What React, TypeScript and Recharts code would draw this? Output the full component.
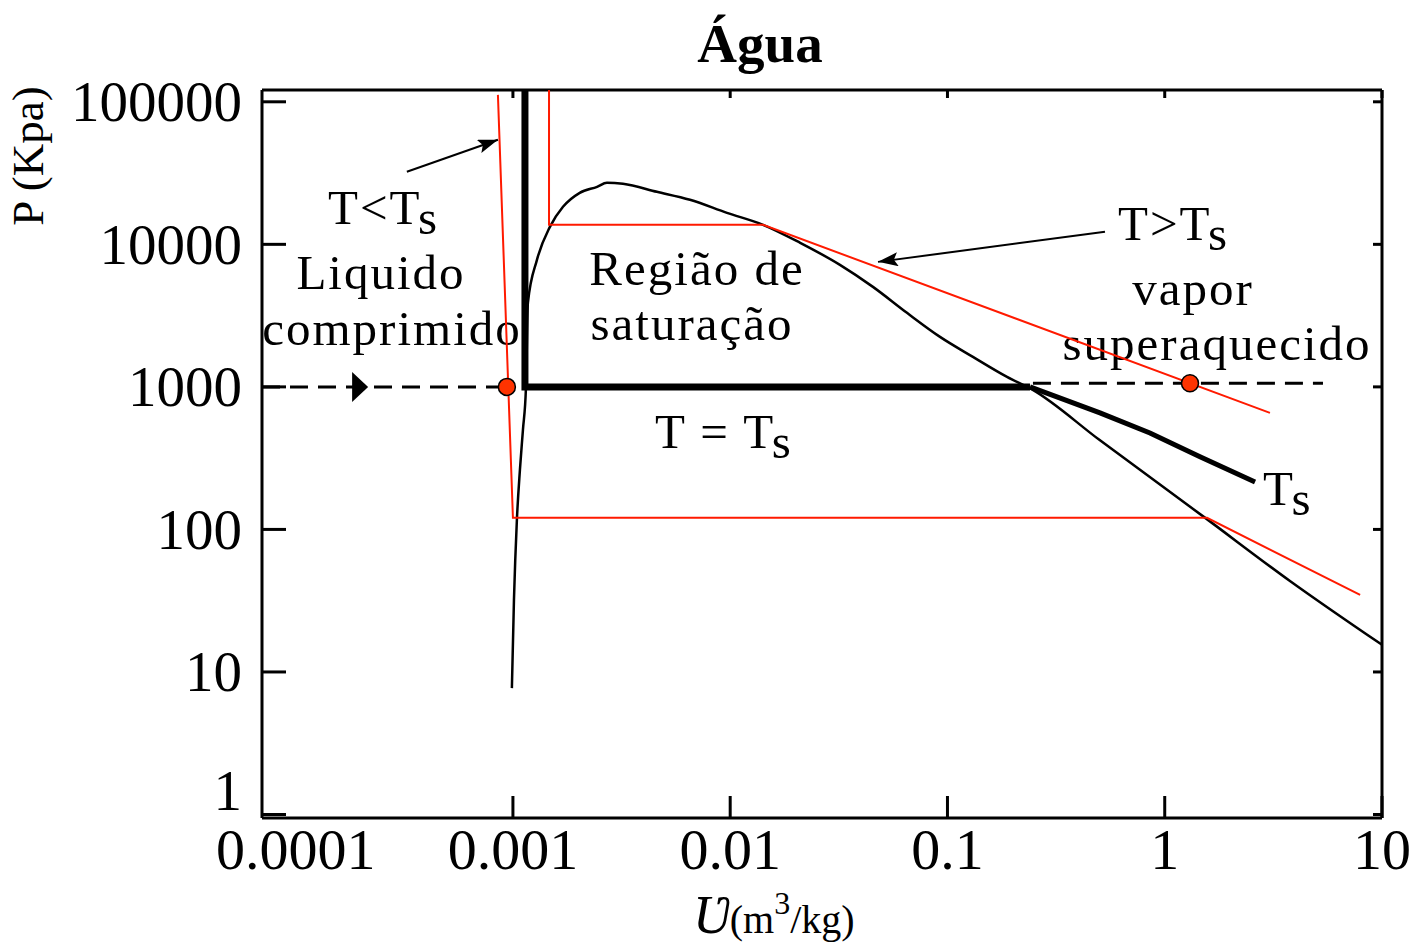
import React from 'react';
import { ComposedChart, Line, Scatter, XAxis, YAxis, ReferenceLine } from 'recharts';

type Pt = [number, number];

// ---- axes ----
const X_TICKS = [0.0001, 0.001, 0.01, 0.1, 1, 10];
const Y_TICKS = [1, 10, 100, 1000, 10000, 100000];
const X_DOMAIN: [number, number] = [0.00007, 10];
const Y_DOMAIN: [number, number] = [0.945, 121000];

// ---- curves (v in m3/kg, P in kPa) ----
const saturationDome: Pt[] = [
  [0.000989, 7.7],
  [0.001011, 32],
  [0.001043, 117],
  [0.001077, 262],
  [0.001112, 500],
  [0.001148, 985],
  [0.001172, 3880],
  [0.00129, 7780],
  [0.00148, 13270],
  [0.0017, 18330],
  [0.00203, 22980],
  [0.00244, 25320],
  [0.00271, 27020],
  [0.00321, 26580],
  [0.0046, 23360],
  [0.00653, 20530],
  [0.00966, 16630],
  [0.01416, 13710],
  [0.021, 10240],
  [0.032, 7180],
  [0.0454, 5030],
  [0.0651, 3306],
  [0.0924, 2243],
  [0.131, 1623],
  [0.188, 1175],
  [0.247, 952],
  [0.5, 425],
  [1.53, 121],
  [3.77, 43.5],
  [10, 15.5],
];
const isothermTsMain: Pt[] = [
  [0.001136, 121000],
  [0.001136, 1000],
  [0.2398, 1000],
];
const isothermTsVapor: Pt[] = [
  [0.2398, 1000],
  [0.5035, 657],
  [0.855, 475],
  [1.453, 323],
  [2.604, 215],
];
const isothermLow: Pt[] = [
  [0.000853, 111900],
  [0.001, 120.6],
  [1.565, 120.6],
  [7.93, 34.7],
];
const isothermHigh: Pt[] = [
  [0.001466, 121000],
  [0.001466, 13710],
  [0.01416, 13710],
  [3.05, 657],
];
const pressureLineLeft: Pt[] = [
  [0.00007, 1000],
  [0.000938, 1000],
];
const pressureLineRight: Pt[] = [
  [0.2474, 1060],
  [5.35, 1060],
];
const statePoints: Pt[] = [
  [0.000938, 1000],
  [1.307, 1060],
];
const flowArrow: Pt[] = [[0.000198, 1000]];
const arrowLiquid: Pt[] = [
  [0.000325, 32270],
  [0.000853, 54130],
];
const arrowVapor: Pt[] = [
  [0.531, 12240],
  [0.0479, 7534],
];

const rows = (pts: Pt[]) => pts.map(([v, p]) => ({ v, p }));

const FONT = "'Liberation Serif', 'Times New Roman', Times, serif";
const CHART_W = 1411;
const CHART_H = 947;
const MARGIN = { top: 90, right: 29, bottom: 0, left: 0 };
const Y_AXIS_W = 262;
const X_AXIS_H = 129;
const PLOT_W = CHART_W - MARGIN.right - Y_AXIS_W;
const PLOT_H = CHART_H - MARGIN.top - X_AXIS_H;
const Y_MARGIN = 20;
const X_MARGIN = 12;

const YTick = (props: any) => {
  const { x, y, payload } = props;
  const ax = x + Y_MARGIN;
  const isLowest = payload.value === Y_TICKS[0];
  return (
    <g>
      <line x1={ax} x2={ax + 24} y1={y} y2={y} stroke="#000" strokeWidth={3} />
      <line x1={ax + PLOT_W - 9} x2={ax + PLOT_W} y1={y} y2={y} stroke="#000" strokeWidth={3} />
      <text x={x} y={isLowest ? y - 24 : y} dy="0.34em" textAnchor="end" fontFamily={FONT} fontSize={57} fill="#000">
        {String(payload.value)}
      </text>
    </g>
  );
};

const XTick = (props: any) => {
  const { x, y, payload } = props;
  const ay = y - X_MARGIN;
  const showLine = payload.value > X_TICKS[0];
  return (
    <g>
      {showLine && <line x1={x} x2={x} y1={ay} y2={ay - 22} stroke="#000" strokeWidth={3} />}
      {showLine && <line x1={x} x2={x} y1={ay - PLOT_H} y2={ay - PLOT_H + 8} stroke="#000" strokeWidth={3} />}
      <text x={x} y={y} dy="0.68em" textAnchor="middle" fontFamily={FONT} fontSize={58} fill="#000">
        {String(payload.value)}
      </text>
    </g>
  );
};

const StateDot = (props: any) => (
  <circle cx={props.cx} cy={props.cy} r={8.5} fill="#ff3300" stroke="#000" strokeWidth={1.5} />
);

const FlowHead = (props: any) => {
  const { cx, cy } = props;
  return <polygon points={`${cx - 8},${cy - 15} ${cx + 8},${cy} ${cx - 8},${cy + 15}`} fill="#000" />;
};

const lineCommon = {
  dataKey: 'p',
  dot: false,
  activeDot: false,
  isAnimationActive: false,
  type: 'linear' as const,
};

const txt = { fontFamily: FONT, fontSize: 49, fill: '#000', letterSpacing: 2 };

export default function App() {
  return (
    <div style={{ position: 'absolute', left: 0, top: 0, width: CHART_W, height: CHART_H, background: '#fff' }}>
      <svg width={CHART_W} height={CHART_H} style={{ position: 'absolute', left: 0, top: 0 }}>
        <defs>
          <marker id="arrowHead" markerUnits="userSpaceOnUse" markerWidth={22} markerHeight={16} refX={20} refY={7} orient="auto">
            <path d="M0,0 L20,7 L0,14 L4,7 z" fill="#000" />
          </marker>
        </defs>
        <text x={760} y={62} textAnchor="middle" fontFamily={FONT} fontSize={55} fontWeight="bold" fill="#000">Água</text>
        <text x={43} y={156} transform="rotate(-90, 43, 156)" textAnchor="middle" fontFamily={FONT} fontSize={45} fill="#000">P (Kpa)</text>
        <text x={693} y={933} fontFamily={FONT} fill="#000">
          <tspan fontSize={54} fontStyle="italic">Ʋ</tspan>
          <tspan fontSize={40}>(m</tspan>
          <tspan fontSize={32} dy={-19}>3</tspan>
          <tspan fontSize={40} dy={19}>/kg)</tspan>
        </text>

        <text x={328} y={224} {...txt}>T&lt;T<tspan dy={10}>s</tspan></text>
        <text x={381} y={289} textAnchor="middle" {...txt}>Liquido</text>
        <text x={392} y={345} textAnchor="middle" {...txt}>comprimido</text>
        <text x={697} y={285} textAnchor="middle" {...txt}>Região de</text>
        <text x={692} y={340} textAnchor="middle" {...txt}>saturação</text>
        <text x={655} y={448} {...txt}>T = T<tspan dy={10}>s</tspan></text>
        <text x={1118} y={240} {...txt}>T&gt;T<tspan dy={10}>s</tspan></text>
        <text x={1193} y={305} textAnchor="middle" {...txt}>vapor</text>
        <text x={1217} y={360} textAnchor="middle" {...txt}>superaquecido</text>
        <text x={1263} y={505} {...txt}>T<tspan dy={10}>s</tspan></text>
      </svg>

      <div style={{ position: 'absolute', left: 0, top: 0 }}>
        <ComposedChart width={CHART_W} height={CHART_H} margin={MARGIN}>
          <XAxis
            dataKey="v"
            type="number"
            scale="log"
            domain={X_DOMAIN}
            allowDataOverflow
            ticks={X_TICKS}
            interval={0}
            height={X_AXIS_H}
            tickSize={0}
            tickMargin={X_MARGIN}
            tickLine={false}
            tick={<XTick />}
            axisLine={{ stroke: '#000', strokeWidth: 3 }}
          />
          <YAxis
            dataKey="p"
            type="number"
            scale="log"
            domain={Y_DOMAIN}
            allowDataOverflow
            ticks={Y_TICKS}
            interval={0}
            width={Y_AXIS_W}
            tickSize={0}
            tickMargin={Y_MARGIN}
            tickLine={false}
            tick={<YTick />}
            axisLine={{ stroke: '#000', strokeWidth: 3 }}
          />
          <ReferenceLine y={Y_DOMAIN[1]} stroke="#000" strokeWidth={3} />
          <ReferenceLine x={X_DOMAIN[1]} stroke="#000" strokeWidth={3} />

          <Line {...lineCommon} data={rows(pressureLineLeft)} stroke="#000" strokeWidth={3} strokeDasharray="18 10" />
          <Line {...lineCommon} data={rows(pressureLineRight)} stroke="#000" strokeWidth={3} strokeDasharray="18 10" />
          <Line {...lineCommon} data={rows(saturationDome)} type="monotoneX" stroke="#000" strokeWidth={2.5} />
          <Line {...lineCommon} data={rows(isothermLow)} stroke="#ff1a00" strokeWidth={2} />
          <Line {...lineCommon} data={rows(isothermHigh)} stroke="#ff1a00" strokeWidth={2} />
          <Line {...lineCommon} data={rows(isothermTsMain)} stroke="#000" strokeWidth={7} />
          <Line {...lineCommon} data={rows(isothermTsVapor)} stroke="#000" strokeWidth={5} />
          <Line {...lineCommon} data={rows(arrowLiquid)} stroke="#000" strokeWidth={2} markerEnd="url(#arrowHead)" />
          <Line {...lineCommon} data={rows(arrowVapor)} stroke="#000" strokeWidth={2} markerEnd="url(#arrowHead)" />
          <Scatter data={rows(flowArrow)} dataKey="p" shape={FlowHead} isAnimationActive={false} />
          <Scatter data={rows(statePoints)} dataKey="p" shape={StateDot} isAnimationActive={false} />
        </ComposedChart>
      </div>
    </div>
  );
}
